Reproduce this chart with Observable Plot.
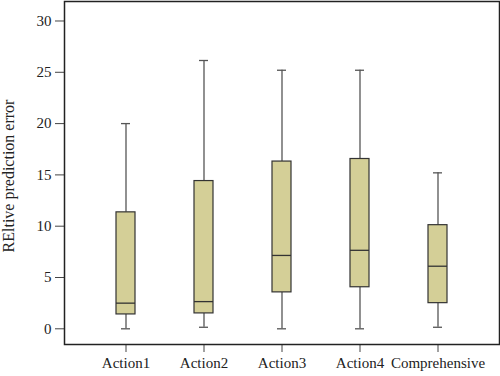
<!DOCTYPE html>
<html>
<head>
<meta charset="utf-8">
<script src="https://cdn.jsdelivr.net/npm/d3@7"></script>
<script src="https://cdn.jsdelivr.net/npm/@observablehq/plot@0.6"></script>
<style>
  html, body { margin: 0; padding: 0; background: #fff; }
  #chart svg { display: block; }
</style>
</head>
<body>
<div id="chart"></div>
<script>
const categories = ["Action1", "Action2", "Action3", "Action4", "Comprehensive"];
const mins    = [0,     0.15,  0,     0,     0.15];
const q1s     = [1.4,   1.5,   3.55,  4.05,  2.5];
const medians = [2.5,   2.65,  7.15,  7.65,  6.1];
const q3s     = [11.35, 14.4,  16.3,  16.55, 10.1];
const maxs    = [20,    26.15, 25.2,  25.2,  15.2];
const yTicks  = [0, 5, 10, 15, 20, 25, 30];
const yLabel  = "REltive prediction error";

const data = categories.map((cat, i) => ({
  cat, min: mins[i], q1: q1s[i], med: medians[i], q3: q3s[i], max: maxs[i]
}));

const font = "'Liberation Serif', 'Times New Roman', serif";

const plot = Plot.plot({
  width: 500,
  height: 376,
  marginLeft: 64,
  marginRight: 1,
  marginTop: 1,
  marginBottom: 32,
  style: { fontFamily: font, fontSize: "15px", color: "#222", background: "#fff" },
  x: { type: "band", domain: categories, paddingInner: 0.5, paddingOuter: 0.538, label: null },
  y: { domain: [-1.53, 31.9], label: null },
  marks: [
    Plot.ruleX(data, { x: "cat", y1: "min", y2: "q1", stroke: "#555", strokeWidth: 1.3 }),
    Plot.ruleX(data, { x: "cat", y1: "q3", y2: "max", stroke: "#555", strokeWidth: 1.3 }),
    Plot.tickY(data, { x: "cat", y: "min", stroke: "#555", strokeWidth: 1.3, insetLeft: 15, insetRight: 15 }),
    Plot.tickY(data, { x: "cat", y: "max", stroke: "#555", strokeWidth: 1.3, insetLeft: 15, insetRight: 15 }),
    Plot.barY(data, { x: "cat", y1: "q1", y2: "q3", fill: "#d4cf97", stroke: "#333", strokeWidth: 1.2, insetLeft: 10, insetRight: 10 }),
    Plot.tickY(data, { x: "cat", y: "med", stroke: "#333", strokeWidth: 1.3, insetLeft: 10, insetRight: 10 }),
    Plot.axisY(yTicks, { tickSize: 9, tickPadding: 4, stroke: "#444", fontSize: 15, label: null }),
    Plot.axisX({ tickSize: 8, tickPadding: 5, stroke: "#444", fontSize: 15, label: null }),
    Plot.frame({ stroke: "#222", strokeWidth: 1.5 })
  ]
});

document.getElementById("chart").appendChild(plot);

d3.select(plot).append("text")
  .attr("transform", "translate(14,176) rotate(-90)")
  .attr("text-anchor", "middle")
  .attr("font-family", font)
  .attr("font-size", 16)
  .attr("fill", "#222")
  .text(yLabel);
</script>
</body>
</html>
